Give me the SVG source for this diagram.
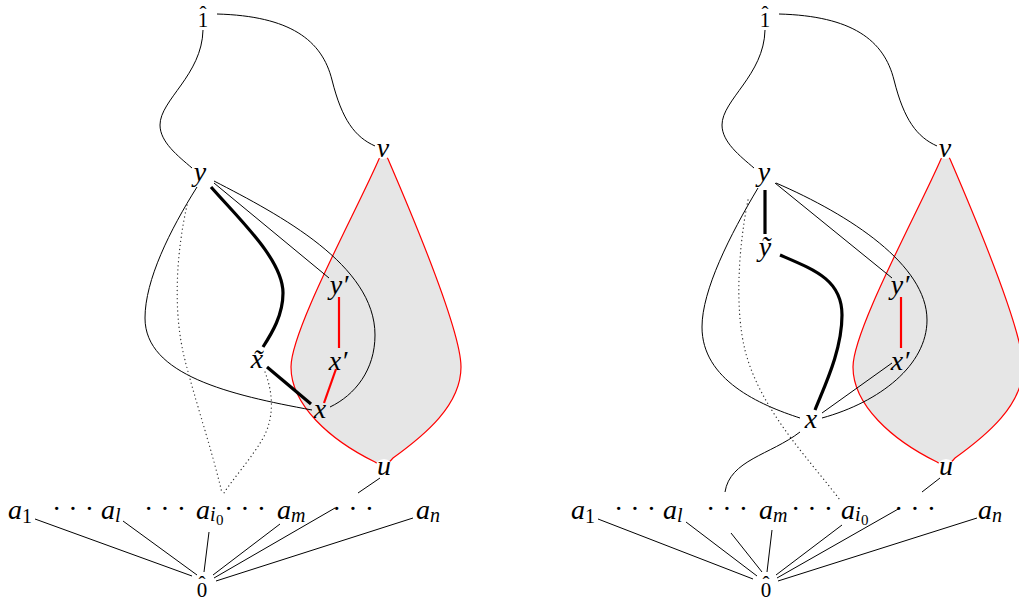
<svg xmlns="http://www.w3.org/2000/svg" width="1019" height="602" viewBox="0 0 1019 602">
<style>
.l{font-family:"Liberation Serif","Times New Roman",serif;font-style:italic;font-size:28px;fill:#000}
.n{font-family:"Liberation Serif","Times New Roman",serif;font-style:normal;font-size:21px;fill:#000;text-anchor:middle}
.s{font-size:20px}
.su{font-style:normal;font-size:20px}
.ss{font-style:normal;font-size:15px}
.d{font-family:"Liberation Serif","Times New Roman",serif;font-size:28px;fill:#000;text-anchor:middle}
.m{text-anchor:middle}
.e{fill:none;stroke:#000;stroke-width:1}
.t{fill:none;stroke:#000;stroke-width:3.2}
.r{fill:none;stroke:#f00;stroke-width:2.2}
.o{fill:none;stroke:#333;stroke-width:1.3;stroke-dasharray:0.1 4;stroke-linecap:round}
.drop{fill:#e6e6e6;stroke:#f00;stroke-width:1.2}
.bg{fill:#fff}
</style>
<defs>
<path id="dropShape" class="drop" d="M383,152 L379,159 C357,210 291,330 291,367 C291,405 330,440 375,462 L384,468 L393,458 C425,435 461,405 461,367 C461,330 410,210 388,159 Z"/>
<path id="topL" class="e" d="M203,30 C202,75 160,100 160,125 C160,142 178,156 192,168"/>
<path id="topR" class="e" d="M217,14 C290,16 322,40 332,80 C342,120 355,137 375,146"/>
</defs>

<g id="regions">
<use href="#dropShape"/>
<use href="#dropShape" transform="translate(562,0)"/>
</g>

<g id="connectors">
<!-- left diagram -->
<use href="#topL"/>
<use href="#topR"/>
<path class="e" d="M214,183 L329,278"/>
<path class="e" d="M214,181 C280,215 375,265 375,335 C375,370 355,395 330,407"/>
<path class="e" d="M197,187 C170,230 145,280 145,318 C145,375 230,395 312,410"/>
<path class="t" d="M211,187 C240,220 283,260 283,293 C283,315 272,333 263,347"/>
<path class="t" d="M267,367 L311,404"/>
<path class="r" d="M339,297 L339,348"/>
<path class="r" d="M336,369 L324,403"/>
<path class="o" d="M187,205 C177,250 172,310 185,360 C195,400 212,450 222,493"/>
<path class="o" d="M265,372 C274,395 274,420 262,440 C250,460 232,480 224,493"/>
<path class="e" d="M380,478 L358,493"/>
<path class="e" d="M35,519 L192,576"/>
<path class="e" d="M123,521 L197,575"/>
<path class="e" d="M209,532 L204,572"/>
<path class="e" d="M280,524 L213,575"/>
<path class="e" d="M335,508 L214,578"/>
<path class="e" d="M413,518 L216,581"/>
<!-- right diagram -->
<use href="#topL" transform="translate(562,0)"/>
<use href="#topR" transform="translate(562,0)"/>
<path class="t" d="M765,190 L765,234"/>
<path class="t" d="M780,255 C815,270 842,280 842,315 C842,350 825,385 815,410"/>
<path class="e" d="M775,183 L892,278"/>
<path class="e" d="M776,183 C850,215 927,265 927,320 C927,365 880,402 822,418"/>
<path class="e" d="M758,188 C730,235 702,290 702,327 C702,380 760,405 800,418"/>
<path class="e" d="M822,413 L892,363"/>
<path class="r" d="M901,297 L901,348"/>
<path class="o" d="M748,200 C738,250 735,310 745,350 C760,410 810,460 840,500"/>
<path class="e" d="M800,432 C770,455 730,460 725,492"/>
<path class="e" d="M940,478 L922,492"/>
<path class="e" d="M598,519 L753,579"/>
<path class="e" d="M686,522 L757,576"/>
<path class="e" d="M731,533 L762,572"/>
<path class="e" d="M772,530 L767,572"/>
<path class="e" d="M842,525 L776,575"/>
<path class="e" d="M900,508 L777,578"/>
<path class="e" d="M977,518 L778,581"/>
</g>

<!-- left diagram nodes -->
<g id="L-top"><text class="n" x="203" y="27">1<tspan x="203" y="21">ˆ</tspan></text></g>
<g id="L-y"><text class="l m" x="200" y="181">y</text></g>
<g id="L-v"><circle class="bg" cx="383" cy="150" r="9"/><text class="l m" x="383" y="157">v</text></g>
<g id="L-yp"><text class="l m" x="339" y="294">y′</text></g>
<g id="L-xp"><text class="l m" x="338" y="370">x′</text></g>
<g id="L-xt"><text class="l m" x="257" y="368">x̃</text></g>
<g id="L-x"><text class="l m" x="320" y="418">x</text></g>
<g id="L-u"><circle class="bg" cx="384" cy="468" r="9"/><text class="l m" x="384" y="475">u</text></g>
<g id="L-a1"><text class="l" x="8" y="519">a<tspan class="su" x="22" y="523">1</tspan></text></g>
<g id="L-d1"><text class="d" x="73" y="518">· · ·</text></g>
<g id="L-al"><text class="l" x="101" y="519">a<tspan class="s" x="115" y="522">l</tspan></text></g>
<g id="L-d2"><text class="d" x="165" y="518">· · ·</text></g>
<g id="L-ai0"><text class="l" x="196" y="519">a<tspan class="s" x="210" y="521">i</tspan><tspan class="ss" x="216" y="525">0</tspan></text></g>
<g id="L-d3"><text class="d" x="245" y="518">· · ·</text></g>
<g id="L-am"><text class="l" x="277" y="519">a<tspan class="s" x="291" y="522">m</tspan></text></g>
<g id="L-d4"><text class="d" x="353" y="518">· · ·</text></g>
<g id="L-an"><text class="l" x="416" y="519">a<tspan class="s" x="430" y="522">n</tspan></text></g>
<g id="L-bot"><text class="n" x="202" y="597">0<tspan x="202" y="591">ˆ</tspan></text></g>

<!-- right diagram nodes -->
<g id="R-top"><text class="n" x="765" y="27">1<tspan x="765" y="21">ˆ</tspan></text></g>
<g id="R-y"><text class="l m" x="764" y="181">y</text></g>
<g id="R-v"><circle class="bg" cx="945" cy="150" r="9"/><text class="l m" x="945" y="157">v</text></g>
<g id="R-yt"><text class="l m" x="765" y="256">ỹ</text></g>
<g id="R-yp"><text class="l m" x="900" y="294">y′</text></g>
<g id="R-xp"><text class="l m" x="900" y="370">x′</text></g>
<g id="R-x"><text class="l m" x="811" y="428">x</text></g>
<g id="R-u"><circle class="bg" cx="946" cy="468" r="9"/><text class="l m" x="946" y="475">u</text></g>
<g id="R-a1"><text class="l" x="571" y="519">a<tspan class="su" x="585" y="523">1</tspan></text></g>
<g id="R-d1"><text class="d" x="635" y="518">· · ·</text></g>
<g id="R-al"><text class="l" x="663" y="519">a<tspan class="s" x="677" y="522">l</tspan></text></g>
<g id="R-d2"><text class="d" x="727" y="518">· · ·</text></g>
<g id="R-am"><text class="l" x="759" y="519">a<tspan class="s" x="773" y="522">m</tspan></text></g>
<g id="R-d3"><text class="d" x="812" y="518">· · ·</text></g>
<g id="R-ai0"><text class="l" x="841" y="519">a<tspan class="s" x="855" y="521">i</tspan><tspan class="ss" x="861" y="525">0</tspan></text></g>
<g id="R-d4"><text class="d" x="915" y="518">· · ·</text></g>
<g id="R-an"><text class="l" x="978" y="519">a<tspan class="s" x="992" y="522">n</tspan></text></g>
<g id="R-bot"><text class="n" x="766" y="597">0<tspan x="766" y="591">ˆ</tspan></text></g>
</svg>
